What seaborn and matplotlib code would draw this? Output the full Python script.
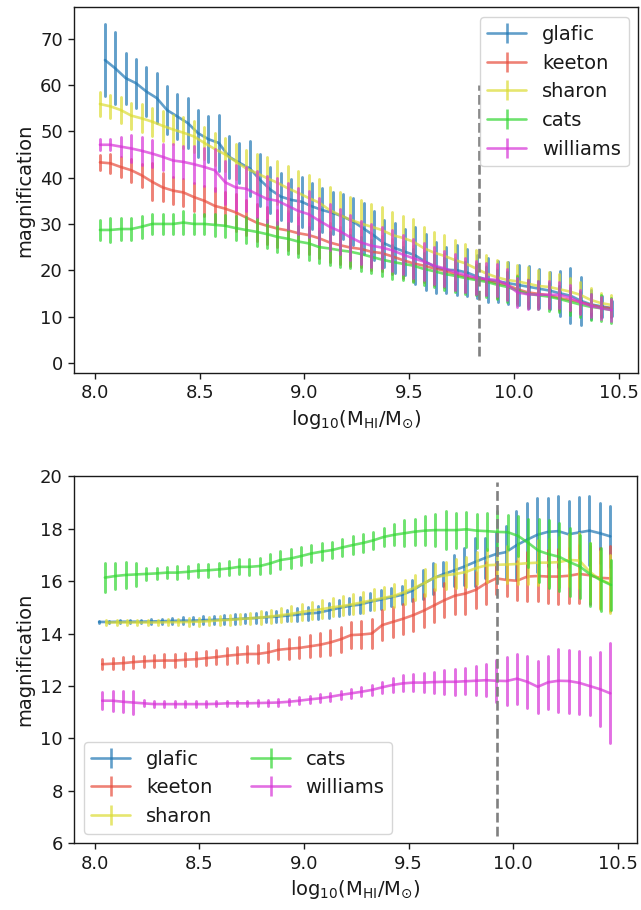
import numpy as np
import pandas as pd
import matplotlib
matplotlib.use("Agg")
import matplotlib.pyplot as plt
from matplotlib.lines import Line2D
import seaborn as sns

# ---------------- data ----------------
models = ["glafic", "keeton", "sharon", "cats", "williams"]
colors = ["#1f77b4", "#e74c3c", "#dcdc32", "#32d732", "#d732d7"]

# top panel: bin centres (first, last) per model, 50 bins each
top_x_first = [8.048, 8.024, 8.024, 8.024, 8.024]
top_x_last = [10.468, 10.466, 10.466, 10.466, 10.466]

top_glafic = [65.4, 63.6, 61.5, 60.4, 58.6, 57.2, 54.6, 53.2, 51.8, 49.6,
              48.3, 47.5, 44.5, 43.2, 42.0, 39.5, 37.4, 35.9, 35.2, 34.8,
              33.8, 33.0, 32.4, 31.6, 30.5, 29.0, 27.5, 25.8, 24.8, 24.0,
              23.2, 21.8, 20.6, 20.1, 20.0, 19.5, 18.6, 17.9, 17.6, 17.2,
              16.8, 16.4, 16.0, 15.6, 15.0, 14.5, 13.4, 12.6, 12.2, 11.8]
top_glafic_err = [7.8, 7.8, 5.5, 5.3, 5.3, 5.3, 5.2, 4.9, 5.5, 5.1,
                  5.0, 6.1, 4.6, 4.3, 6.0, 5.6, 5.0, 5.1, 4.5, 5.4,
                  5.0, 4.8, 4.5, 4.8, 5.0, 5.5, 5.2, 5.0, 5.4, 5.0,
                  6.2, 6.0, 5.5, 5.0, 5.4, 5.0, 4.6, 4.8, 4.5, 4.5,
                  4.3, 4.5, 4.2, 4.0, 4.8, 6.0, 5.2, 3.2, 2.2, 1.6]

top_keeton = [43.3, 43.1, 42.3, 41.6, 40.5, 39.1, 37.9, 37.2, 36.8, 35.8,
              35.0, 33.9, 33.3, 32.5, 31.4, 30.3, 29.6, 29.0, 28.6, 28.0,
              27.6, 26.9, 26.0, 25.4, 24.9, 24.6, 24.0, 23.7, 23.0, 22.2,
              21.5, 21.0, 20.4, 19.9, 19.2, 18.6, 18.2, 17.8, 17.2, 16.8,
              15.9, 15.2, 14.9, 14.6, 14.0, 13.6, 13.1, 12.5, 12.0, 11.8]
top_keeton_err = [1.6, 2.0, 2.2, 2.5, 2.5, 4.0, 3.0, 3.0, 3.0, 3.0,
                  3.2, 3.8, 3.5, 4.0, 3.8, 4.0, 4.0, 4.0, 4.2, 4.2,
                  4.2, 4.2, 4.2, 4.0, 4.0, 4.0, 4.0, 3.8, 3.8, 3.8,
                  3.8, 3.6, 3.5, 3.5, 3.5, 3.4, 3.4, 3.2, 3.2, 3.0,
                  3.0, 3.0, 2.8, 2.8, 2.6, 2.5, 2.4, 2.2, 2.0, 1.8]

top_sharon = [55.9, 55.4, 54.6, 53.4, 52.8, 52.1, 51.2, 50.4, 49.7, 48.9,
              47.5, 46.2, 45.0, 43.5, 42.0, 41.0, 39.9, 38.9, 37.7, 36.7,
              35.6, 34.6, 33.0, 31.9, 30.9, 30.1, 29.4, 28.7, 27.6, 27.0,
              26.2, 24.8, 23.8, 23.1, 22.2, 21.5, 20.4, 19.3, 18.5, 17.9,
              17.6, 17.1, 16.6, 16.4, 15.9, 15.4, 14.7, 13.6, 12.9, 12.5]
top_sharon_err = [2.5, 2.5, 2.8, 2.8, 3.0, 3.0, 3.2, 3.2, 3.3, 3.3,
                  3.5, 3.5, 3.6, 3.8, 4.0, 4.2, 4.5, 4.7, 4.8, 4.8,
                  5.0, 5.0, 5.0, 5.0, 5.0, 5.0, 5.0, 5.0, 5.0, 4.8,
                  4.8, 4.6, 4.5, 4.5, 4.3, 4.2, 4.0, 4.0, 3.8, 3.8,
                  3.6, 3.5, 3.5, 3.3, 3.2, 3.0, 2.8, 2.5, 2.2, 2.2]

top_cats = [28.7, 28.7, 28.9, 28.9, 29.4, 30.0, 30.0, 30.0, 30.3, 30.0,
            30.0, 29.8, 29.6, 29.1, 28.7, 28.3, 27.8, 27.2, 26.8, 26.2,
            25.8, 25.0, 24.7, 24.3, 24.0, 23.5, 22.9, 22.3, 21.8, 21.4,
            21.0, 20.3, 19.8, 19.2, 18.8, 18.3, 17.9, 17.5, 16.9, 16.4,
            15.6, 14.9, 14.6, 14.3, 13.8, 13.2, 12.6, 12.1, 11.8, 11.4]
top_cats_err = [2.2, 2.6, 2.4, 2.4, 2.4, 2.2, 2.2, 2.2, 2.4, 2.2,
                2.2, 2.4, 2.4, 2.6, 2.8, 3.0, 3.0, 3.2, 3.4, 3.4,
                3.5, 3.5, 3.6, 3.6, 3.6, 3.6, 3.6, 3.6, 3.6, 3.6,
                3.5, 3.5, 3.5, 3.4, 3.4, 3.4, 3.3, 3.3, 3.2, 3.2,
                3.1, 3.0, 3.0, 3.0, 2.9, 2.9, 2.8, 2.8, 2.8, 2.7]

top_williams = [47.1, 47.1, 46.7, 46.3, 45.8, 45.2, 44.5, 43.7, 43.4, 42.9,
                42.3, 41.6, 39.0, 37.9, 37.6, 36.5, 35.4, 35.0, 33.9, 32.8,
                32.1, 30.7, 29.4, 28.4, 27.1, 26.0, 25.3, 24.9, 24.3, 23.4,
                22.6, 21.9, 21.0, 20.4, 19.6, 19.0, 18.4, 18.1, 17.9, 16.9,
                15.2, 14.8, 14.7, 14.7, 14.7, 14.1, 13.1, 12.3, 11.8, 11.4]
top_williams_err = [1.2, 1.2, 2.0, 3.0, 3.0, 3.0, 2.8, 3.5, 3.5, 4.0,
                    4.0, 4.5, 4.7, 4.8, 4.8, 5.0, 5.0, 5.0, 5.0, 5.0,
                    5.0, 5.0, 5.0, 4.8, 4.8, 4.6, 4.6, 4.5, 4.4, 4.2,
                    4.2, 4.0, 4.0, 3.8, 3.8, 3.6, 3.6, 3.5, 3.4, 3.3,
                    3.2, 3.1, 3.0, 2.9, 2.8, 2.7, 2.6, 2.5, 2.4, 2.3]

# bottom panel
bot_x_first = [8.020, 8.035, 8.055, 8.048, 8.035]
bot_x_last = [10.465, 10.465, 10.465, 10.468, 10.465]

bot_glafic = [14.44, 14.44, 14.45, 14.45, 14.45, 14.46, 14.47, 14.48, 14.49, 14.49,
              14.51, 14.52, 14.53, 14.55, 14.57, 14.59, 14.62, 14.64, 14.68, 14.72,
              14.76, 14.79, 14.88, 14.97, 15.05, 15.10, 15.21, 15.29, 15.38, 15.47,
              15.63, 15.88, 16.10, 16.26, 16.40, 16.55, 16.72, 16.88, 17.02, 17.10,
              17.36, 17.57, 17.76, 17.87, 17.90, 17.78, 17.85, 17.92, 17.82, 17.70]
bot_glafic_err = [0.04, 0.04, 0.05, 0.05, 0.06, 0.08, 0.10, 0.12, 0.12, 0.14,
                  0.15, 0.15, 0.16, 0.18, 0.18, 0.20, 0.20, 0.22, 0.22, 0.24,
                  0.25, 0.25, 0.28, 0.30, 0.30, 0.30, 0.32, 0.35, 0.35, 0.35,
                  0.40, 0.55, 0.60, 0.45, 0.60, 0.70, 0.90, 0.75, 0.80, 1.00,
                  1.30, 1.40, 1.40, 1.30, 1.35, 1.25, 1.35, 1.30, 1.15, 1.15]

bot_keeton = [12.83, 12.85, 12.87, 12.91, 12.94, 12.96, 12.97, 12.97, 13.00, 13.02,
              13.06, 13.10, 13.15, 13.19, 13.22, 13.22, 13.28, 13.38, 13.42, 13.45,
              13.51, 13.57, 13.66, 13.78, 13.94, 13.96, 14.00, 14.32, 14.44, 14.56,
              14.70, 14.87, 15.07, 15.27, 15.44, 15.52, 15.66, 15.91, 16.10, 16.04,
              16.01, 16.17, 16.19, 16.17, 16.17, 16.20, 16.27, 16.22, 16.12, 16.10]
bot_keeton_err = [0.20, 0.20, 0.22, 0.22, 0.22, 0.24, 0.24, 0.25, 0.25, 0.26,
                  0.27, 0.28, 0.30, 0.30, 0.32, 0.33, 0.35, 0.36, 0.38, 0.40,
                  0.42, 0.44, 0.46, 0.48, 0.50, 0.52, 0.55, 0.57, 0.57, 0.57,
                  0.60, 0.62, 0.63, 0.66, 0.70, 0.76, 0.70, 0.80, 0.60, 0.60,
                  0.75, 0.95, 0.95, 1.00, 1.05, 1.05, 1.10, 1.10, 1.15, 1.25]

bot_sharon = [14.42, 14.42, 14.42, 14.42, 14.42, 14.42, 14.43, 14.43, 14.44, 14.45,
              14.47, 14.50, 14.52, 14.55, 14.58, 14.61, 14.65, 14.70, 14.75, 14.82,
              14.88, 14.93, 15.00, 15.05, 15.12, 15.20, 15.28, 15.36, 15.44, 15.58,
              15.75, 15.94, 16.14, 16.22, 16.27, 16.35, 16.50, 16.60, 16.62, 16.63,
              16.65, 16.68, 16.70, 16.70, 16.72, 16.80, 16.78, 16.35, 16.05, 15.90]
bot_sharon_err = [0.10, 0.10, 0.10, 0.10, 0.10, 0.10, 0.12, 0.12, 0.14, 0.15,
                  0.16, 0.17, 0.18, 0.20, 0.22, 0.24, 0.25, 0.26, 0.28, 0.30,
                  0.32, 0.34, 0.35, 0.36, 0.38, 0.40, 0.40, 0.42, 0.44, 0.45,
                  0.48, 0.50, 0.50, 0.52, 0.55, 0.58, 0.60, 0.62, 0.65, 0.70,
                  0.75, 0.80, 0.85, 0.90, 0.95, 1.00, 1.05, 1.10, 1.10, 1.10]

bot_cats = [16.13, 16.19, 16.23, 16.25, 16.27, 16.29, 16.32, 16.32, 16.35, 16.39,
            16.41, 16.44, 16.48, 16.54, 16.54, 16.57, 16.67, 16.80, 16.86, 16.95,
            17.05, 17.12, 17.18, 17.28, 17.37, 17.45, 17.55, 17.68, 17.76, 17.82,
            17.88, 17.92, 17.94, 17.94, 17.94, 17.97, 17.92, 17.90, 17.87, 17.86,
            17.72, 17.45, 17.15, 17.02, 16.92, 16.72, 16.55, 16.25, 16.04, 15.85]
bot_cats_err = [0.55, 0.50, 0.50, 0.45, 0.22, 0.22, 0.22, 0.24, 0.24, 0.25,
                0.25, 0.26, 0.27, 0.28, 0.30, 0.30, 0.35, 0.35, 0.35, 0.33,
                0.32, 0.32, 0.30, 0.32, 0.35, 0.35, 0.33, 0.35, 0.40, 0.50,
                0.50, 0.55, 0.60, 0.73, 0.67, 0.67, 0.65, 0.70, 0.80, 0.65,
                0.76, 0.90, 1.20, 1.30, 1.30, 1.30, 1.20, 1.20, 1.20, 0.95]

bot_williams = [11.44, 11.44, 11.40, 11.37, 11.34, 11.31, 11.31, 11.31, 11.31, 11.31,
                11.31, 11.32, 11.34, 11.34, 11.34, 11.35, 11.36, 11.37, 11.40, 11.44,
                11.49, 11.53, 11.59, 11.66, 11.72, 11.78, 11.85, 11.95, 12.04, 12.10,
                12.13, 12.13, 12.15, 12.16, 12.16, 12.18, 12.20, 12.22, 12.20, 12.19,
                12.28, 12.16, 11.97, 12.14, 12.20, 12.19, 12.12, 12.00, 11.88, 11.72]
bot_williams_err = [0.32, 0.38, 0.40, 0.44, 0.12, 0.10, 0.10, 0.10, 0.10, 0.10,
                    0.10, 0.10, 0.10, 0.10, 0.10, 0.10, 0.11, 0.12, 0.12, 0.13,
                    0.14, 0.15, 0.15, 0.16, 0.16, 0.18, 0.20, 0.22, 0.25, 0.30,
                    0.33, 0.35, 0.40, 0.45, 0.50, 0.50, 0.55, 0.60, 0.80, 0.90,
                    0.95, 1.00, 1.00, 1.00, 1.20, 1.20, 1.20, 1.10, 1.40, 1.90]

top_values = [top_glafic, top_keeton, top_sharon, top_cats, top_williams]
top_errors = [top_glafic_err, top_keeton_err, top_sharon_err, top_cats_err, top_williams_err]
bot_values = [bot_glafic, bot_keeton, bot_sharon, bot_cats, bot_williams]
bot_errors = [bot_glafic_err, bot_keeton_err, bot_sharon_err, bot_cats_err, bot_williams_err]

top_cut = 9.833
bot_cut = 9.924
xlabel = r"log$_{10}$(M$_{\rm HI}$/M$_{\odot}$)"
ylabel = "magnification"

# ---------------- style ----------------
sns.set_style("ticks")
plt.rcParams["font.family"] = ["DejaVu Sans"]
plt.rcParams["axes.edgecolor"] = "0.1"
plt.rcParams["xtick.color"] = "0.1"
plt.rcParams["ytick.color"] = "0.1"
plt.rcParams["text.color"] = "0.1"
plt.rcParams["axes.labelcolor"] = "0.1"

LW = 1.9
ALPHA = 0.7
palette = dict(zip(models, colors))


def long_table(firsts, lasts, values, errors):
    rows = []
    for m, x0, x1, ys, es in zip(models, firsts, lasts, values, errors):
        xs = np.linspace(x0, x1, len(ys))
        for xi, yi, ei in zip(xs, ys, es):
            rows.append((m, xi, yi - ei))
            rows.append((m, xi, yi))
            rows.append((m, xi, yi + ei))
    return pd.DataFrame(rows, columns=["model", "x", "y"])


def draw(ax, df):
    sns.lineplot(data=df, x="x", y="y", hue="model", hue_order=models,
                 palette=palette, estimator="mean", errorbar=("pi", 100),
                 err_style="bars", err_kws={"elinewidth": 2.1},
                 linewidth=LW, alpha=ALPHA, legend=False, ax=ax)


def handles():
    return [Line2D([0], [0], color=c, lw=LW, alpha=ALPHA, marker="|",
                   markersize=14, markeredgewidth=LW) for c in colors]


fig = plt.figure(figsize=(6.41, 9.10), dpi=100)
ax1 = fig.add_axes([0.1154, 0.5901, 0.8803, 0.4019])
ax2 = fig.add_axes([0.1154, 0.0731, 0.8788, 0.4038])

draw(ax1, long_table(top_x_first, top_x_last, top_values, top_errors))
ax1.vlines(top_cut, 1.5, 60, colors="gray", linestyles="--", lw=LW)
ax1.set_xlim(7.9, 10.594)
ax1.set_ylim(-2.2, 76.8)
ax1.set_yticks(np.arange(0, 71, 10))
ax1.legend(handles(), models, loc="upper right", fontsize=14)

draw(ax2, long_table(bot_x_first, bot_x_last, bot_values, bot_errors))
ax2.vlines(bot_cut, 6.27, 19.78, colors="gray", linestyles="--", lw=LW)
ax2.set_xlim(7.9, 10.594)
ax2.set_ylim(6, 20)
ax2.set_yticks(np.arange(6, 21, 2))
ax2.legend(handles(), models, loc="lower left", ncol=2, fontsize=14)

for ax in (ax1, ax2):
    ax.set_xticks([8.0, 8.5, 9.0, 9.5, 10.0, 10.5])
    ax.set_xlabel(xlabel, fontsize=14)
    ax.set_ylabel(ylabel, fontsize=14)
    ax.tick_params(labelsize=13, length=4.5, width=1.0)
    for s in ax.spines.values():
        s.set_linewidth(1.0)

fig.savefig("out.png", dpi=100)
